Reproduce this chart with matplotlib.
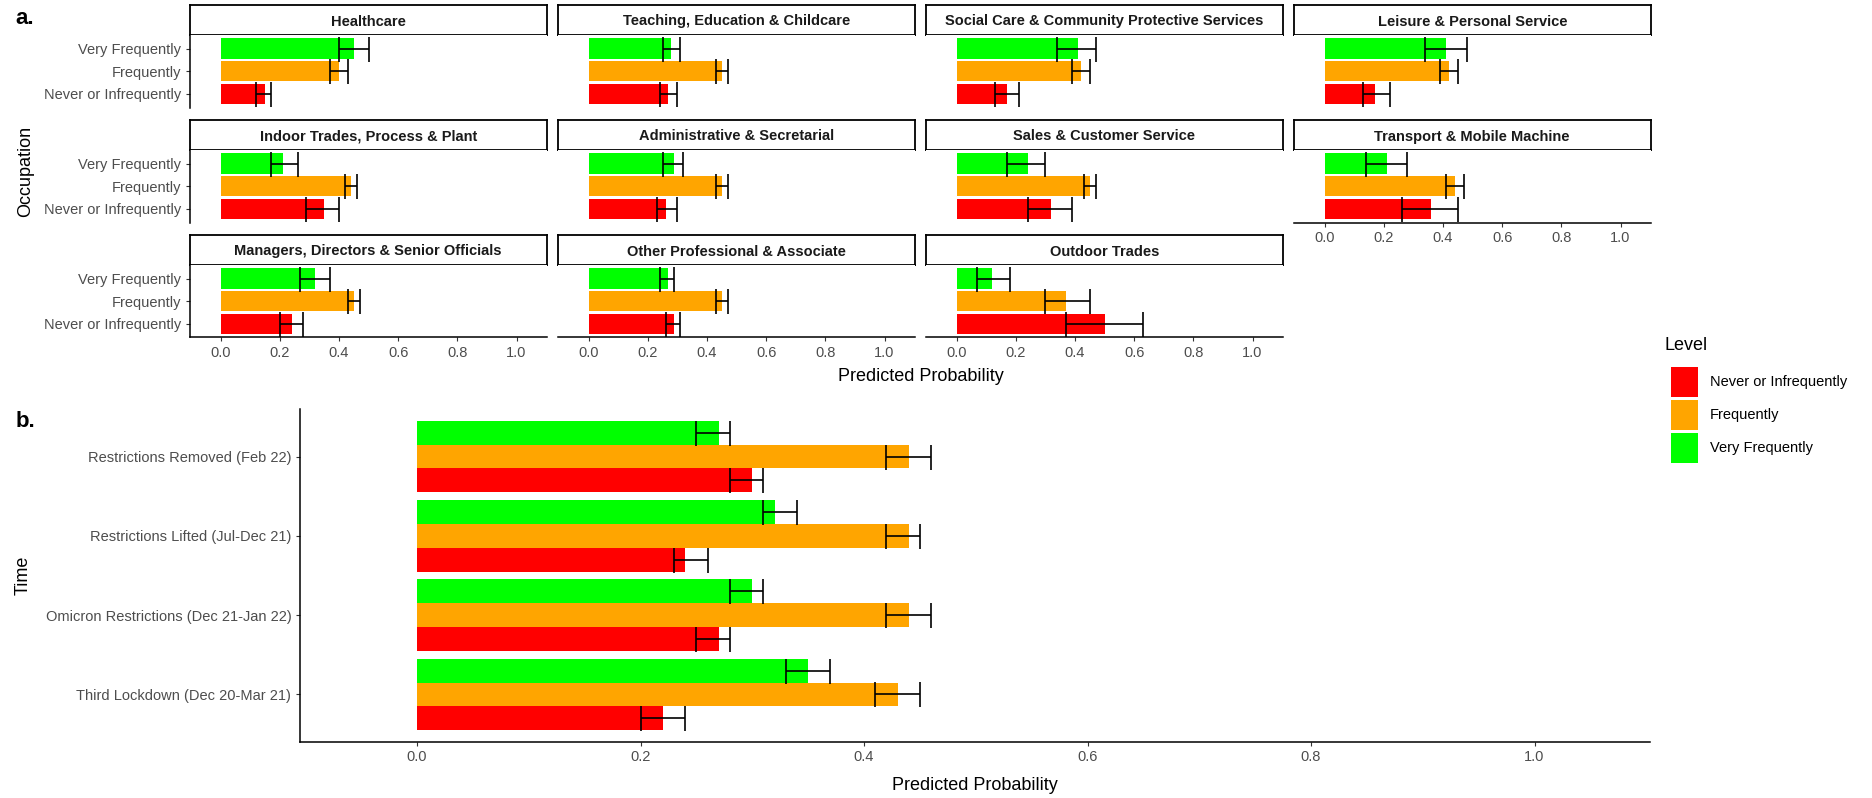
import matplotlib
matplotlib.use('Agg')
import matplotlib.pyplot as plt
from matplotlib.patches import Patch
import numpy as np

plt.rcParams['font.family'] = ['Liberation Sans', 'DejaVu Sans']

# ---- data ----
levels = ['Never or Infrequently', 'Frequently', 'Very Frequently']
level_colors = ['#FF0000', '#FFA500', '#00FF00']

occupations = ['Healthcare', 'Teaching, Education & Childcare',
               'Social Care & Community Protective Services', 'Leisure & Personal Service',
               'Indoor Trades, Process & Plant', 'Administrative & Secretarial',
               'Sales & Customer Service', 'Transport & Mobile Machine',
               'Managers, Directors & Senior Officials', 'Other Professional & Associate',
               'Outdoor Trades']
occ_never = [0.15, 0.27, 0.17, 0.17, 0.35, 0.26, 0.32, 0.36, 0.24, 0.29, 0.50]
occ_never_lo = [0.12, 0.24, 0.13, 0.13, 0.29, 0.23, 0.24, 0.26, 0.20, 0.26, 0.37]
occ_never_hi = [0.17, 0.30, 0.21, 0.22, 0.40, 0.30, 0.39, 0.45, 0.28, 0.31, 0.63]
occ_freq = [0.40, 0.45, 0.42, 0.42, 0.44, 0.45, 0.45, 0.44, 0.45, 0.45, 0.37]
occ_freq_lo = [0.37, 0.43, 0.39, 0.39, 0.42, 0.43, 0.43, 0.41, 0.43, 0.43, 0.30]
occ_freq_hi = [0.43, 0.47, 0.45, 0.45, 0.46, 0.47, 0.47, 0.47, 0.47, 0.47, 0.45]
occ_vfreq = [0.45, 0.28, 0.41, 0.41, 0.21, 0.29, 0.24, 0.21, 0.32, 0.27, 0.12]
occ_vfreq_lo = [0.40, 0.25, 0.34, 0.34, 0.17, 0.25, 0.17, 0.14, 0.27, 0.24, 0.07]
occ_vfreq_hi = [0.50, 0.31, 0.47, 0.48, 0.26, 0.32, 0.30, 0.28, 0.37, 0.29, 0.18]

periods = ['Third Lockdown (Dec 20-Mar 21)', 'Omicron Restrictions (Dec 21-Jan 22)',
           'Restrictions Lifted (Jul-Dec 21)', 'Restrictions Removed (Feb 22)']
time_never = [0.22, 0.27, 0.24, 0.30]
time_never_lo = [0.20, 0.25, 0.23, 0.28]
time_never_hi = [0.24, 0.28, 0.26, 0.31]
time_freq = [0.43, 0.44, 0.44, 0.44]
time_freq_lo = [0.41, 0.42, 0.42, 0.42]
time_freq_hi = [0.45, 0.46, 0.45, 0.46]
time_vfreq = [0.35, 0.30, 0.32, 0.27]
time_vfreq_lo = [0.33, 0.28, 0.31, 0.25]
time_vfreq_hi = [0.37, 0.31, 0.34, 0.28]

xticks = [0.0, 0.2, 0.4, 0.6, 0.8, 1.0]
xlim = (-0.105, 1.103)

W, H = 1872, 798
fig = plt.figure(figsize=(W / 100, H / 100), dpi=100)
fig.patch.set_facecolor('white')

TICK_COL = '#4D4D4D'
TICK_FS = 10.5


def box(left, top, w, h):
    # axes from pixel coords (top-left origin)
    return fig.add_axes([left / W, 1 - (top + h) / H, w / W, h / H])


def style_axes(ax, show_x, show_y):
    for s in ['top', 'right']:
        ax.spines[s].set_visible(False)
    ax.spines['left'].set_visible(show_y)
    ax.spines['bottom'].set_visible(show_x)
    for s in ['left', 'bottom']:
        ax.spines[s].set_linewidth(1.1)
        ax.spines[s].set_color('black')
    ax.tick_params(axis='both', direction='out', length=3, width=0.8,
                   color='#333333', labelcolor=TICK_COL, labelsize=TICK_FS, pad=3)
    if not show_x:
        ax.tick_params(axis='x', length=0, labelbottom=False)
    if not show_y:
        ax.tick_params(axis='y', length=0, labelleft=False)


# ---- panel a: facets ----
col_left = [189.5, 557.5, 925.5, 1293.5]
col_w = 357.5
row_top = [5, 120, 235]
strip_h = 30
panel_h = 72.5

ypos = np.array([1, 2, 3])
for i, occ in enumerate(occupations):
    r, c = divmod(i, 4)
    left = col_left[c]
    top = row_top[r]
    # strip
    sax = box(left, top, col_w, strip_h)
    sax.set_xticks([])
    sax.set_yticks([])
    for s in sax.spines.values():
        s.set_linewidth(1.3)
        s.set_color('black')
    sax.text(0.5, 0.45, occ, ha='center', va='center', fontsize=10.5,
             fontweight='bold', color='#1A1A1A', transform=sax.transAxes)
    # panel
    ax = box(left, top + strip_h, col_w, panel_h)
    vals = [occ_never[i], occ_freq[i], occ_vfreq[i]]
    los = [occ_never_lo[i], occ_freq_lo[i], occ_vfreq_lo[i]]
    his = [occ_never_hi[i], occ_freq_hi[i], occ_vfreq_hi[i]]
    ax.barh(ypos, vals, height=0.9, color=level_colors)
    ax.errorbar(his, ypos, xerr=[np.array(his) - np.array(los), np.zeros(3)],
                fmt='none', ecolor='black', elinewidth=1.2, capsize=9, capthick=1.2)
    ax.set_xlim(*xlim)
    ax.set_ylim(0.4, 3.6)
    ax.set_xticks(xticks)
    ax.set_xticklabels(['%.1f' % t for t in xticks])
    ax.set_yticks(ypos)
    ax.set_yticklabels(levels)
    show_x = (r == 2) or (r == 1 and c == 3)
    style_axes(ax, show_x, c == 0)

fig.text(15 / W, 1 - 19 / H, 'a.', fontsize=16, fontweight='bold', va='center', ha='left')
fig.text(26 / W, 1 - 171 / H, 'Occupation', fontsize=13, rotation=90, va='center', ha='center')
fig.text(920.5 / W, 1 - 377 / H, 'Predicted Probability', fontsize=13, va='center', ha='center')

# ---- panel b: time ----
bx = box(299.7, 409, 1349.9, 333)
gpos = np.arange(1, len(periods) + 1)
bw = 0.3
series = [(time_never, time_never_lo, time_never_hi, -bw),
          (time_freq, time_freq_lo, time_freq_hi, 0.0),
          (time_vfreq, time_vfreq_lo, time_vfreq_hi, bw)]
for (vals, los, his, off), col in zip(series, level_colors):
    bx.barh(gpos + off, vals, height=bw, color=col)
    his = np.array(his)
    bx.errorbar(his, gpos + off, xerr=[his - np.array(los), np.zeros(len(his))],
                fmt='none', ecolor='black', elinewidth=1.2, capsize=9, capthick=1.2)
bx.set_xlim(*xlim)
bx.set_ylim(0.4, 4.6)
bx.set_xticks(xticks)
bx.set_xticklabels(['%.1f' % t for t in xticks])
bx.set_yticks(gpos)
bx.set_yticklabels(periods)
style_axes(bx, True, True)
bx.set_xlabel('Predicted Probability', fontsize=13, labelpad=9)

fig.text(16 / W, 1 - 421 / H, 'b.', fontsize=16, fontweight='bold', va='center', ha='left')
fig.text(23 / W, 1 - 575 / H, 'Time', fontsize=13, rotation=90, va='center', ha='center')

# ---- legend ----
fig.text(1665 / W, 1 - 346 / H, 'Level', fontsize=13, va='center', ha='left')
handles = [Patch(facecolor=c, edgecolor='none') for c in level_colors]
leg = fig.legend(handles, levels, loc='upper left',
                 bbox_to_anchor=(1671 / W, 1 - 367 / H), frameon=False,
                 fontsize=TICK_FS, handlelength=1.85,
                 handleheight=2.79, labelspacing=0.2, handletextpad=0.8,
                 borderpad=0, borderaxespad=0)

fig.savefig('out.png', dpi=100, facecolor='white')
